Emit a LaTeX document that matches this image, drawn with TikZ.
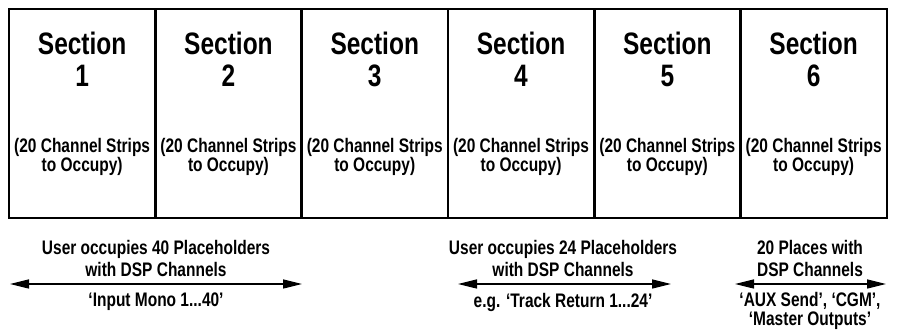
\documentclass[tikz,border=0pt]{standalone}
\usepackage{fontspec}
\setmainfont{Liberation Sans}[FakeStretch=0.79]
\usetikzlibrary{positioning,arrows.meta}

\begin{document}
\begin{tikzpicture}[x=1pt, y=-1pt]
    \tikzstyle{section} = [rectangle, draw, line width=2.6pt, minimum width=146.3pt, minimum height=209pt, outer sep=0pt, inner sep=0pt]
    \tikzstyle{title} = [align=center, font=\bfseries\fontsize{31}{32}\selectfont]
    \tikzstyle{note} = [align=center, font=\bfseries\fontsize{19.6}{18.5}\selectfont]
    \tikzstyle{caption} = [align=center, font=\bfseries\fontsize{19.6}{22}\selectfont]
    \tikzstyle{span} = [draw, line width=1.3pt, {Triangle[length=19pt,width=9pt]}-{Triangle[length=19pt,width=9pt]}]

    \useasboundingbox (0,0) rectangle (898,336);

    % Sections
    \node[section, anchor=north west] (s1) at (9,9) {};
    \node[section, right=0pt of s1] (s2) {};
    \node[section, right=0pt of s2] (s3) {};
    \node[section, right=0pt of s3] (s4) {};
    \node[section, right=0pt of s4] (s5) {};
    \node[section, right=0pt of s5] (s6) {};

    % Titles
    \node[title] (t1) at ([yshift=-50pt]s1.north) {Section\\1};
    \node[title] (t2) at ([yshift=-50pt]s2.north) {Section\\2};
    \node[title] (t3) at ([yshift=-50pt]s3.north) {Section\\3};
    \node[title] (t4) at ([yshift=-50pt]s4.north) {Section\\4};
    \node[title] (t5) at ([yshift=-50pt]s5.north) {Section\\5};
    \node[title] (t6) at ([yshift=-50pt]s6.north) {Section\\6};

    % Channel strips
    \node[note] (n1) at ([yshift=-148pt]s1.north) {(20 Channel Strips\\to Occupy)};
    \node[note] (n2) at ([yshift=-148pt]s2.north) {(20 Channel Strips\\to Occupy)};
    \node[note] (n3) at ([yshift=-148pt]s3.north) {(20 Channel Strips\\to Occupy)};
    \node[note] (n4) at ([yshift=-148pt]s4.north) {(20 Channel Strips\\to Occupy)};
    \node[note] (n5) at ([yshift=-148pt]s5.north) {(20 Channel Strips\\to Occupy)};
    \node[note] (n6) at ([yshift=-148pt]s6.north) {(20 Channel Strips\\to Occupy)};

    % Spans
    \coordinate (a1w) at (10,284);
    \coordinate (a1e) at (302,284);
    \coordinate (a2w) at (458,284);
    \coordinate (a2e) at (671,284);
    \coordinate (a3w) at (735,284);
    \coordinate (a3e) at (886,284);
    \draw[span] (a1w) -- (a1e);
    \draw[span] (a2w) -- (a2e);
    \draw[span] (a3w) -- (a3e);

    % Captions
    \node[caption] (c1) at (156,258) {User occupies 40 Placeholders\\with DSP Channels};
    \node[caption] (d1) at (156,302) {‘Input Mono 1...40’};
    \node[caption] (c2) at (563,258) {User occupies 24 Placeholders\\with DSP Channels};
    \node[caption] (d2) at (563,302) {e.g. ‘Track Return 1...24’};
    \node[caption] (c3) at (810,258) {20 Places with\\DSP Channels};
    \node[note] (d3) at (810,311) {‘AUX Send’, ‘CGM’,\\‘Master Outputs’};
\end{tikzpicture}
\end{document}
